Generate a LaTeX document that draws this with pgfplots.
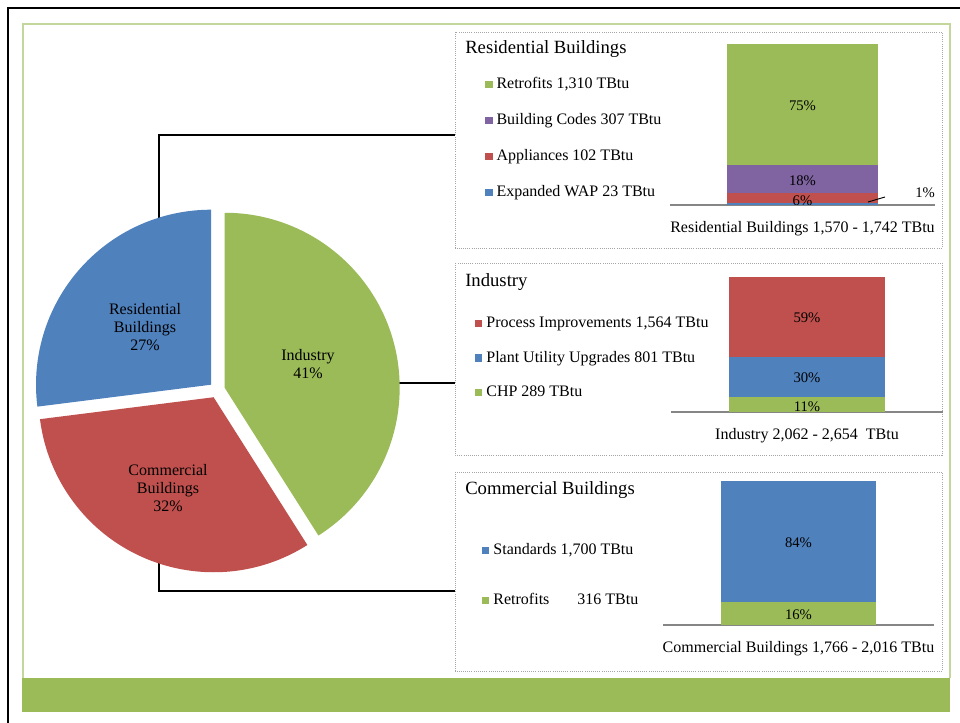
\documentclass[border=0pt]{standalone}
\usepackage{fontspec}
\setmainfont{Liberation Serif}
\usepackage{pgfplots}
\pgfplotsset{compat=1.18}
\usetikzlibrary{calc}
\definecolor{xblue}{HTML}{4F81BD}
\definecolor{xred}{HTML}{C0504D}
\definecolor{xgreen}{HTML}{9BBB59}
\definecolor{xpurple}{HTML}{8064A2}
\definecolor{boxgray}{HTML}{A6A6A6}
\definecolor{axgray}{HTML}{868686}
\definecolor{framegreen}{HTML}{C3D69B}

% pie shares (percent)
\def\pInd{41}
\def\pCom{32}
\def\pRes{27}

\tikzset{pctlabel/.style={font=\fontsize{11}{13}\selectfont}}
\pgfplotsset{
  barpanel/.style={
    scale only axis, anchor=south west,
    xmin=-1, xmax=1, ymin=0,
    ybar stacked,
    axis x line*=bottom, axis y line=none,
    xtick=\empty, ytick=\empty,
    axis line style={axgray, line width=0.8pt},
    clip=false,
    xlabel style={at={(axis description cs:0.5,0)}, anchor=center, yshift=-18pt,
                  font=\fontsize{12}{14}\selectfont},
    reverse legend,
    legend cell align=left,
    legend image code/.code={\fill[##1,draw=none] (0pt,-2.6pt) rectangle (5.4pt,2.8pt);},
    legend style={draw=none, fill=none, anchor=north west, inner sep=0pt,
                  font=\fontsize{12}{14}\selectfont,
                  nodes={inner sep=0pt, text height=9pt, text depth=3pt},
                  /tikz/every odd column/.append style={column sep=3pt}},
  },
}

\begin{document}
\begin{tikzpicture}[x=0.75pt,y=-0.75pt]
\useasboundingbox (0,0) rectangle (960,723);
\fill[white] (0,0) rectangle (960,723);
% outer frames
\draw[line width=1.4pt] (8,723) -- (8,8) -- (960,8);
\draw[framegreen, line width=1pt] (23,678) -- (23,24) -- (950,24) -- (950,678);
\fill[xgreen] (22,678) rectangle (950,712);
% dotted panel boxes
\draw[boxgray, densely dotted, line width=0.6pt] (455,32) rectangle (942,248);
\draw[boxgray, densely dotted, line width=0.6pt] (455,263) rectangle (942,455);
\draw[boxgray, densely dotted, line width=0.6pt] (455,472) rectangle (942,671);
% connectors
\draw[line width=1pt] (159,222) -- (159,135) -- (455,135);
\draw[line width=1pt] (392,383) -- (455,383);
\draw[line width=1pt] (159,552) -- (159,591) -- (455,591);

% ---------------- pie ----------------
\coordinate (pieSW) at (0,623);
\begin{axis}[at={(pieSW)}, anchor=south west, scale only axis,
  width=345pt, height=330pt, xmin=0, xmax=460, ymin=100, ymax=540, hide axis, clip=false]
  \pgfmathsetmacro{\aA}{90}
  \pgfmathsetmacro{\aB}{90-3.6*\pInd}
  \pgfmathsetmacro{\aC}{\aB-3.6*\pCom}
  \pgfmathsetmacro{\aD}{\aC-3.6*\pRes}
  \pgfmathsetmacro{\mA}{(\aA+\aB)/2}
  \pgfmathsetmacro{\mB}{(\aB+\aC)/2}
  \pgfmathsetmacro{\mC}{(\aC+\aD)/2}
  \fill[xgreen] ($(axis cs:217,333)+(\mA:6pt)$) -- ++(\aA:131.25pt)
     arc[start angle=\aA, end angle=\aB, radius=131.25pt] -- cycle;
  \fill[xred] ($(axis cs:217,333)+(\mB:6pt)$) -- ++(\aB:131.25pt)
     arc[start angle=\aB, end angle=\aC, radius=131.25pt] -- cycle;
  \fill[xblue] ($(axis cs:217,333)+(\mC:6pt)$) -- ++(\aC:131.25pt)
     arc[start angle=\aC, end angle=\aD, radius=131.25pt] -- cycle;
\end{axis}

\begin{scope}[every node/.style={align=center, font=\fontsize{12}{13.5}\selectfont}]
\node at (145,327) {Residential\\Buildings\\27\%};
\node at (308,364) {Industry\\41\%};
\node at (168,488) {Commercial\\Buildings\\32\%};
\end{scope}

% panel titles
\begin{scope}[every node/.style={anchor=base west, inner sep=0pt, font=\fontsize{14}{16}\selectfont}]
\node at (465,54) {Residential Buildings};
\node at (465,287) {Industry};
\node at (465,494) {Commercial Buildings};
\end{scope}

% ---------------- Residential ----------------
\coordinate (resSW) at (670,205);
\begin{axis}[barpanel, at={(resSW)}, width=198.75pt, height=120.75pt,
  ymax=1742, bar width=113.25pt,
  xlabel={Residential Buildings 1,570 - 1,742 TBtu},
  legend style={at={(axis description cs:-0.698,0.799)}, row sep=15pt}]
  \addplot[fill=xblue, draw=none] coordinates {(0,23)};
  \addlegendentry{Expanded WAP 23 TBtu}
  \addplot[fill=xred, draw=none] coordinates {(0,102)};
  \addlegendentry{Appliances 102 TBtu}
  \addplot[fill=xpurple, draw=none] coordinates {(0,307)};
  \addlegendentry{Building Codes 307 TBtu}
  \addplot[fill=xgreen, draw=none] coordinates {(0,1310)};
  \addlegendentry{Retrofits 1,310 TBtu}
  \coordinate (r75) at (axis cs:0,1071);
  \coordinate (r18) at (axis cs:0,262);
  \coordinate (r6) at (axis cs:0,50);
  \coordinate (r1) at (axis cs:0.925,130);
  \coordinate (rl1) at (axis cs:0.494,32);
  \coordinate (rl2) at (axis cs:0.623,87);
  \coordinate (rclipA) at (axis cs:-0.6,0);
  \coordinate (rclipB) at (axis cs:0.6,200);
\end{axis}
\node[pctlabel] at (r75) {75\%};
\node[pctlabel] at (r18) {18\%};
\begin{scope}
\clip (rclipA) rectangle (rclipB);
\node[pctlabel] at (r6) {6\%};
\end{scope}
\node[pctlabel] at (r1) {1\%};
\draw[line width=0.7pt] (rl1) -- (rl2);

% ---------------- Industry ----------------
\coordinate (indSW) at (671,412);
\begin{axis}[barpanel, at={(indSW)}, width=204pt, height=101.25pt,
  ymax=2654, bar width=117pt,
  xlabel={Industry 2,062 - 2,654\ \ TBtu},
  legend style={at={(axis description cs:-0.721,0.716)}, row sep=13.9pt}]
  \addplot[fill=xgreen, draw=none] coordinates {(0,289)};
  \addlegendentry{CHP 289 TBtu}
  \addplot[fill=xblue, draw=none] coordinates {(0,801)};
  \addlegendentry{Plant Utility Upgrades 801 TBtu}
  \addplot[fill=xred, draw=none] coordinates {(0,1564)};
  \addlegendentry{Process Improvements 1,564 TBtu}
  \coordinate (i59) at (axis cs:0,1848);
  \coordinate (i30) at (axis cs:0,668);
  \coordinate (i11) at (axis cs:0,108);
\end{axis}
\node[pctlabel] at (i59) {59\%};
\node[pctlabel] at (i30) {30\%};
\node[pctlabel] at (i11) {11\%};

% ---------------- Commercial ----------------
\coordinate (comSW) at (663,625);
\begin{axis}[barpanel, at={(comSW)}, width=203.25pt, height=108pt,
  ymax=2016, bar width=116.25pt,
  xlabel={Commercial Buildings 1,766 - 2,016 TBtu},
  legend style={at={(axis description cs:-0.668,0.574)}, row sep=25.5pt}]
  \addplot[fill=xgreen, draw=none] coordinates {(0,316)};
  \addlegendentry{Retrofits\hspace{21pt}316 TBtu}
  \addplot[fill=xblue, draw=none] coordinates {(0,1700)};
  \addlegendentry{Standards 1,700 TBtu}
  \coordinate (c84) at (axis cs:0,1148);
  \coordinate (c16) at (axis cs:0,140);
\end{axis}
\node[pctlabel] at (c84) {84\%};
\node[pctlabel] at (c16) {16\%};
\end{tikzpicture}
\end{document}
